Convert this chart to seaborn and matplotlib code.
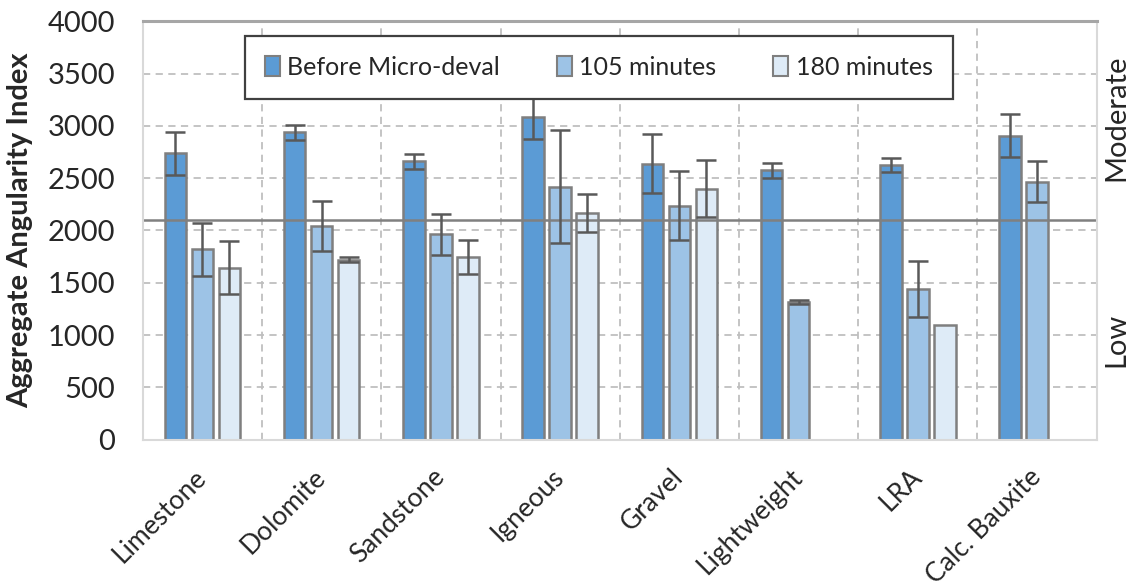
import numpy as np
import pandas as pd
import matplotlib
matplotlib.use("Agg")
import matplotlib.pyplot as plt
import matplotlib.transforms as mtransforms
import seaborn as sns

# Aggregate angularity index per aggregate type and Micro-Deval stage
categories = ["Limestone", "Dolomite", "Sandstone", "Igneous", "Gravel",
              "Lightweight", "LRA", "Calc. Bauxite"]
series = ["Before Micro-deval", "105 minutes", "180 minutes"]

before_mean = [2740, 2940, 2660, 3080, 2640, 2575, 2625, 2905]
before_err = [205, 72, 75, 210, 280, 73, 64, 207]
min105_mean = [1820, 2040, 1965, 2420, 2235, 1320, 1440, 2465]
min105_err = [250, 240, 196, 540, 330, 20, 265, 195]
min180_mean = [1645, 1720, 1745, 2165, 2400, np.nan, 1100, np.nan]
min180_err = [250, 22, 163, 180, 270, np.nan, 0, np.nan]

threshold = 2100
zone_labels = ["Moderate", "Low"]
zone_label_y = [3080, 955]

colors = ["#5B9BD5", "#9DC3E6", "#DEEBF7"]

frames = []
for name, m, e in zip(series, [before_mean, min105_mean, min180_mean],
                      [before_err, min105_err, min180_err]):
    frames.append(pd.DataFrame({"Aggregate": categories, "Stage": name,
                                "AAI": m, "err": e}))
df = pd.concat(frames, ignore_index=True).dropna(subset=["AAI"])

sns.set_style("white")
plt.rcParams["font.family"] = ["Lato", "DejaVu Sans"]

fig = plt.figure(figsize=(11.33, 5.88), dpi=100)
ax = fig.add_axes([0.126, 0.252, 0.842, 0.712])

sns.barplot(data=df, x="Aggregate", y="AAI", hue="Stage",
            order=categories, hue_order=series, palette=colors,
            saturation=1, errorbar=None, width=0.68, gap=0.2,
            edgecolor="#7F7F7F", linewidth=1.8, ax=ax, zorder=2)

# error bars placed on the drawn bars
err_lookup = {(r.Aggregate, r.Stage): r.err for r in df.itertuples()}
for stage, cont in zip(series, ax.containers):
    for p in cont.patches:
        xc = p.get_x() + p.get_width() / 2
        cat = categories[int(round(xc))]
        h = p.get_height()
        if np.isnan(h):
            continue
        e = err_lookup.get((cat, stage), 0)
        if e and e > 0:
            ax.errorbar(xc, h, yerr=e, fmt="none", ecolor="#595959",
                        elinewidth=1.8, capsize=7, capthick=1.8, zorder=3)

ax.set_xlim(-0.5, len(categories) - 0.5)
ax.set_ylim(0, 4000)
ax.set_yticks(np.arange(0, 4001, 500))

# grid: dashed horizontal, dashed vertical between groups
ax.set_xticks(np.arange(0.5, len(categories) - 0.5, 1), minor=True)
ax.grid(axis="y", which="major", color="#BFBFBF", linestyle=(0, (4, 3)),
        linewidth=1.3, zorder=0)
ax.grid(axis="x", which="minor", color="#BFBFBF", linestyle=(0, (4, 3)),
        linewidth=1.3, zorder=0)
ax.set_axisbelow(True)

ax.axhline(threshold, color="#808080", linewidth=1.8, zorder=2.5)

for side in ["left", "right", "bottom"]:
    ax.spines[side].set_color("#D9D9D9")
    ax.spines[side].set_linewidth(1.5)
ax.spines["top"].set_color("#A6A6A6")
ax.spines["top"].set_linewidth(2.2)

ax.tick_params(axis="both", which="both", length=0)
ax.tick_params(axis="y", labelsize=21, pad=20)
ax.set_xticks(range(len(categories)))
ax.set_xticklabels(categories, rotation=45, ha="right", va="center",
                   rotation_mode="anchor", fontsize=19)
ax.tick_params(axis="x", pad=24)

ax.set_xlabel("")
ax.set_ylabel("Aggregate Angularity Index", fontsize=21, fontweight="bold",
              labelpad=10)

trans = mtransforms.blended_transform_factory(ax.transAxes, ax.transData)
for lab, yv in zip(zone_labels, zone_label_y):
    ax.text(1.021, yv, lab, transform=trans, rotation=90, ha="center",
            va="center", fontsize=21)

leg = ax.legend(loc="center", bbox_to_anchor=(0.107, 0.811, 0.742, 0.158),
                mode="expand", ncol=3, fontsize=18, frameon=True,
                fancybox=False, borderpad=0.8, handlelength=0.6,
                handleheight=0.8, handletextpad=0.3, columnspacing=2.0,
                borderaxespad=0)
leg.get_frame().set_edgecolor("#404040")
leg.get_frame().set_linewidth(1.6)
leg.get_frame().set_alpha(1)
for h in leg.legend_handles:
    h.set_edgecolor("#7F7F7F")
    h.set_linewidth(1.5)
leg.set_zorder(5)

fig.savefig("out.png", dpi=100, facecolor="white")
